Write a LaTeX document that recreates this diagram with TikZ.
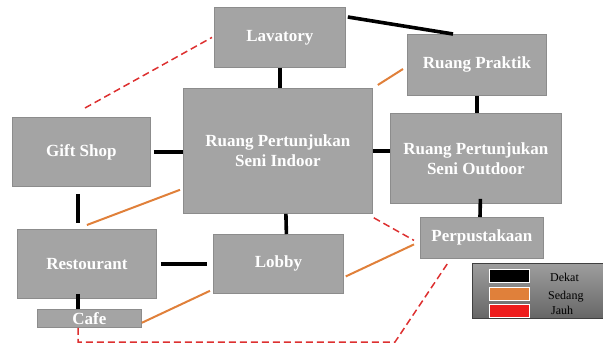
\documentclass[tikz,border=0pt]{standalone}
\usepackage{fontspec}
\setmainfont{Liberation Serif}
\usetikzlibrary{positioning,calc}
\definecolor{abu}{HTML}{A4A4A4}
\definecolor{abutepi}{HTML}{8C8C8C}
\definecolor{oranye}{HTML}{E0803A}
\definecolor{merah}{HTML}{DD3030}
\definecolor{merahlegenda}{HTML}{EE1C1C}
\tikzset{
  ruang/.style={draw=abutepi,line width=0.8pt,fill=abu,anchor=north west,inner sep=0pt,align=center,
                text=white,font=\fontsize{17}{20}\selectfont\bfseries},
  dekat/.style={line width=3.6pt,black},
  sedang/.style={line width=2pt,oranye},
  jauh/.style={line width=1.5pt,merah,dash pattern=on 7pt off 4pt},
  kotakwarna/.style={draw=white,line width=1.4pt,minimum width=40pt,minimum height=13pt,inner sep=0pt,anchor=north west},
  ket/.style={anchor=west,inner sep=0pt,font=\fontsize{12}{14}\selectfont},
}
\begin{document}
\begin{tikzpicture}[x=1pt,y=-1pt]
  \useasboundingbox (0,0) rectangle (603,343);
  % ruangan
  \node[ruang,minimum width=131pt,minimum height=60pt] (lav) at (214,7) {Lavatory};
  \node[ruang,minimum width=139pt,minimum height=61pt] (praktik) at (407,34) {Ruang Praktik};
  \node[ruang,minimum width=189pt,minimum height=125pt] (indoor) at (183,88) {Ruang Pertunjukan\\Seni Indoor};
  \node[ruang,minimum width=138pt,minimum height=69pt] (gift) at (12,117) {Gift Shop};
  \node[ruang,minimum width=171pt,minimum height=90pt] (outdoor) at (390,113) {Ruang Pertunjukan\\Seni Outdoor};
  \node[ruang,minimum width=123pt,minimum height=41pt] (perpus) at (420,217) {Perpustakaan};
  \node[ruang,minimum width=139pt,minimum height=69pt] (resto) at (17,229) {Restourant};
  \node[ruang,minimum width=130pt,minimum height=59pt] (lobby) at (213,234) {Lobby};
  \node[ruang,minimum width=104pt,minimum height=18pt] (cafe) at (37,309) {Cafe};
  \coordinate (belok) at (395,342);

  % hubungan dekat
  \draw[dekat] ($(lav.north east)+(2,10)$) -- ($(praktik.north west)+(46,0)$);
  \draw[dekat] (lav.south) -- (lav.south |- indoor.north);
  \draw[dekat,shorten <=3pt] (gift.east) -- (gift.east -| indoor.west);
  \draw[dekat] (praktik.south) -- (praktik.south |- outdoor.north);
  \draw[dekat] (indoor.east) -- (indoor.east -| outdoor.west);
  \draw[dekat] ($(gift.south west)+(66,7)$) -- ($(resto.north west)+(61,-6)$);
  \draw[dekat] ($(indoor.south)+(8,0)$) -- ($(lobby.north)+(8,0)$);
  \draw[dekat,shorten <=4pt,shorten >=6pt] (resto.east) -- (resto.east -| lobby.west);
  \draw[dekat] ($(resto.south west)+(61,-5)$) -- ($(cafe.north west)+(41,0)$);
  \draw[dekat] ($(outdoor.south)+(4.5,-5)$) -- ($(perpus.north west)+(60,0)$);

  % hubungan sedang
  \draw[sedang] ($(praktik.north west)+(-4,35)$) -- ($(indoor.north east)+(5,-3)$);
  \draw[sedang] ($(resto.north)+(0,-4)$) -- ($(indoor.south west)+(-3,-24)$);
  \draw[sedang] ($(cafe.south east)+(0,-5)$) -- ($(lobby.south west)+(-3,-3)$);
  \draw[sedang] ($(lobby.east)+(2,12.5)$) -- ($(perpus.west)+(-6,6.5)$);

  % hubungan jauh
  \draw[jauh] ($(gift.north west)+(73,-9)$) -- ($(lav.west)+(-2,0)$);
  \draw[jauh] ($(indoor.south east)+(1,4)$) -- ($(perpus.west)+(-6,2.5)$);
  \draw[jauh] ($(cafe.south west)+(41,0)$) |- (belok) -- ($(perpus.south west)+(28,4)$);

  % legenda
  \node[draw=black!75,line width=0.8pt,top color=black!38,bottom color=black!60,minimum width=134pt,
        minimum height=55pt,anchor=north west,inner sep=0pt] (legenda) at (472,263) {};
  \node[kotakwarna,fill=black] (kdekat) at (489,269) {};
  \node[kotakwarna,fill=oranye] (ksedang) at (489,287) {};
  \node[kotakwarna,fill=merahlegenda] (kjauh) at (489,304) {};
  \node[ket] (tdekat) at (550,277) {Dekat};
  \node[ket] (tsedang) at (548,297) {Sedang};
  \node[ket] (tjauh) at (551,310) {Jauh};
\end{tikzpicture}
\end{document}
